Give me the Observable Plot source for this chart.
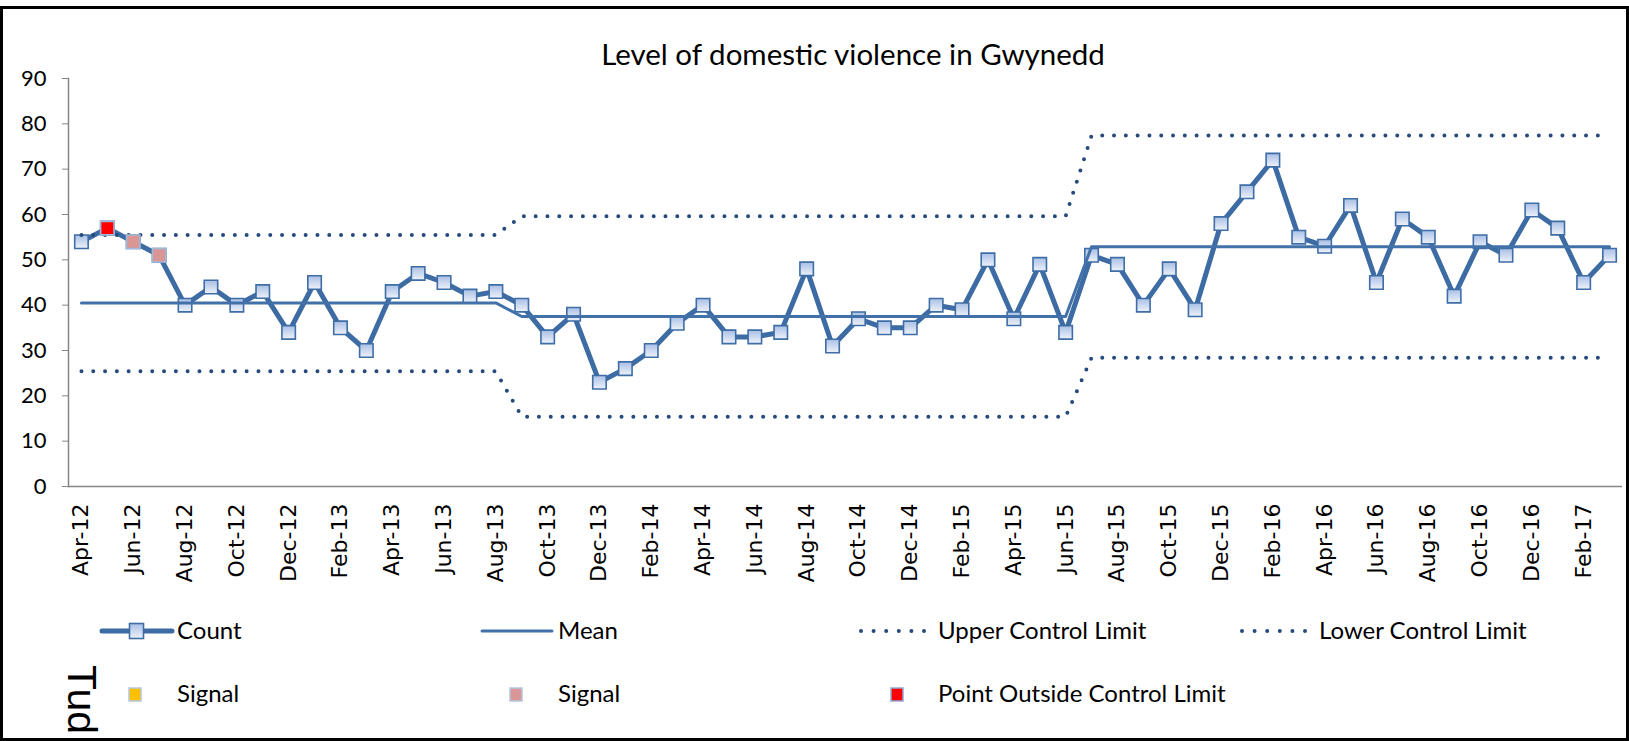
<!DOCTYPE html>
<html><head><meta charset="utf-8">
<script src="https://cdn.jsdelivr.net/npm/d3@7"></script>
<script src="https://cdn.jsdelivr.net/npm/@observablehq/plot@0.6"></script>
<style>
html,body{margin:0;padding:0;background:#fff;}
#page{position:relative;width:1629px;height:741px;overflow:hidden;font-family:Lato,sans-serif;color:#000;}
#box{position:absolute;left:0;top:6px;width:1629px;height:735px;box-sizing:border-box;border:3px solid #000;z-index:5;pointer-events:none;}
#chart{position:absolute;left:0;top:0;}
#title{position:absolute;left:853px;top:39px;transform:translateX(-50%);font-size:29.5px;line-height:29.5px;white-space:nowrap;}
.lg{position:absolute;font-size:24px;line-height:24px;white-space:nowrap;}
.sw{position:absolute;overflow:visible;}
#tud{position:absolute;left:102px;top:665px;transform-origin:0 0;transform:rotate(90deg);font-family:"Liberation Sans",sans-serif;font-size:41px;line-height:41px;white-space:nowrap;}
</style>
</head><body>
<div id="page">
  <div id="box"></div>
  <div id="title">Level of domestic violence in Gwynedd</div>
  <div id="chart"></div>
  <div id="legend"></div>
  <div id="tud">Tud</div>
</div>
<script>
// ---- data ----
const months = ["Apr-12","May-12","Jun-12","Jul-12","Aug-12","Sep-12","Oct-12","Nov-12","Dec-12","Jan-13","Feb-13","Mar-13",
"Apr-13","May-13","Jun-13","Jul-13","Aug-13","Sep-13","Oct-13","Nov-13","Dec-13","Jan-14","Feb-14","Mar-14",
"Apr-14","May-14","Jun-14","Jul-14","Aug-14","Sep-14","Oct-14","Nov-14","Dec-14","Jan-15","Feb-15","Mar-15",
"Apr-15","May-15","Jun-15","Jul-15","Aug-15","Sep-15","Oct-15","Nov-15","Dec-15","Jan-16","Feb-16","Mar-16",
"Apr-16","May-16","Jun-16","Jul-16","Aug-16","Sep-16","Oct-16","Nov-16","Dec-16","Jan-17","Feb-17","Mar-17"];
const counts = [54,57,54,51,40,44,40,43,34,45,35,30,
43,47,45,42,43,40,33,38,23,26,30,36,
40,33,33,34,48,31,37,35,35,40,39,50,
37,49,34,51,49,40,48,39,58,65,72,55,
53,62,45,59,55,42,54,51,61,57,45,51];
const meanVals = [40.5,40.5,40.5,40.5,40.5,40.5,40.5,40.5,40.5,40.5,40.5,40.5,
40.5,40.5,40.5,40.5,40.5,37.5,37.5,37.5,37.5,37.5,37.5,37.5,
37.5,37.5,37.5,37.5,37.5,37.5,37.5,37.5,37.5,37.5,37.5,37.5,
37.5,37.5,37.5,52.9,52.9,52.9,52.9,52.9,52.9,52.9,52.9,52.9,
52.9,52.9,52.9,52.9,52.9,52.9,52.9,52.9,52.9,52.9,52.9,52.9];
const uclVals = [55.5,55.5,55.5,55.5,55.5,55.5,55.5,55.5,55.5,55.5,55.5,55.5,
55.5,55.5,55.5,55.5,55.5,59.6,59.6,59.6,59.6,59.6,59.6,59.6,
59.6,59.6,59.6,59.6,59.6,59.6,59.6,59.6,59.6,59.6,59.6,59.6,
59.6,59.6,59.6,77.4,77.4,77.4,77.4,77.4,77.4,77.4,77.4,77.4,
77.4,77.4,77.4,77.4,77.4,77.4,77.4,77.4,77.4,77.4,77.4,77.4];
const lclVals = [25.4,25.4,25.4,25.4,25.4,25.4,25.4,25.4,25.4,25.4,25.4,25.4,
25.4,25.4,25.4,25.4,25.4,15.4,15.4,15.4,15.4,15.4,15.4,15.4,
15.4,15.4,15.4,15.4,15.4,15.4,15.4,15.4,15.4,15.4,15.4,15.4,
15.4,15.4,15.4,28.4,28.4,28.4,28.4,28.4,28.4,28.4,28.4,28.4,
28.4,28.4,28.4,28.4,28.4,28.4,28.4,28.4,28.4,28.4,28.4,28.4];
const signalYellowMonths = [];
const signalPinkMonths = ["Jun-12","Jul-12"];
const outsideMonths = ["May-12"];
const yTicks = [0,10,20,30,40,50,60,70,80,90];
const xTickLabels = ["Apr-12","Jun-12","Aug-12","Oct-12","Dec-12","Feb-13","Apr-13","Jun-13","Aug-13","Oct-13","Dec-13","Feb-14",
"Apr-14","Jun-14","Aug-14","Oct-14","Dec-14","Feb-15","Apr-15","Jun-15","Aug-15","Oct-15","Dec-15","Feb-16",
"Apr-16","Jun-16","Aug-16","Oct-16","Dec-16","Feb-17"];

// ---- table ----
const rows = months.map((m, i) => ({month: m, count: counts[i], mean: meanVals[i], ucl: uclVals[i], lcl: lclVals[i]}));
const pick = list => rows.filter(r => list.includes(r.month));

const C_LINE = "#3D6BA3", C_MEAN = "#4271AA", C_DOT = "#264A7C";
const dotted = {stroke: C_DOT, strokeWidth: 4, strokeDasharray: "0 11.8", strokeLinecap: "round"};

const plot = Plot.plot({
  width: 1629, height: 600,
  marginLeft: 68, marginRight: 7, marginTop: 78, marginBottom: 114,
  x: {type: "point", domain: months, padding: 0.5},
  y: {domain: [0, 90]},
  style: {background: "transparent", fontFamily: "Lato, sans-serif", overflow: "visible"},
  marks: [
    Plot.ruleY([0], {stroke: "#868686", strokeWidth: 1.5}),
    Plot.frame({anchor: "left", stroke: "#868686", strokeWidth: 1.5}),
    Plot.axisY({ticks: yTicks, tickSize: 6, tickPadding: 16, fontSize: 22, stroke: "#868686", color: "#000", label: null}),
    Plot.axisX({ticks: xTickLabels, tickSize: 0, tickRotate: -90, tickPadding: 17, fontSize: 22, fontFamily: "DejaVu Sans", color: "#000", label: null}),
    Plot.line(rows, {x: "month", y: "count", stroke: C_LINE, strokeWidth: 5, strokeLinejoin: "round"}),
    Plot.dot(rows, {x: "month", y: "count", symbol: "square", r: 7.6, fill: "url(#mkgrad)", stroke: "#3F6EA6", strokeWidth: 1.6}),
    Plot.line(rows, {x: "month", y: "mean", stroke: C_MEAN, strokeWidth: 3}),
    Plot.line(rows, {x: "month", y: "ucl", ...dotted}),
    Plot.line(rows, {x: "month", y: "lcl", ...dotted}),
    Plot.dot(pick(signalYellowMonths), {x: "month", y: "count", symbol: "square", r: 7.6, fill: "#FFC000", stroke: "#A2B9DA", strokeWidth: 1.6}),
    Plot.dot(pick(signalPinkMonths), {x: "month", y: "count", symbol: "square", r: 7.6, fill: "#D99694", stroke: "#A2B9DA", strokeWidth: 1.6}),
    Plot.dot(pick(outsideMonths), {x: "month", y: "count", symbol: "square", r: 7.6, fill: "#FF0000", stroke: "#A2B9DA", strokeWidth: 1.6})
  ]
});
const defs = d3.select(plot).insert("defs", ":first-child");
const grad = defs.append("linearGradient").attr("id", "mkgrad").attr("x1", 0).attr("y1", 0).attr("x2", 0).attr("y2", 1);
grad.append("stop").attr("offset", "0%").attr("stop-color", "#A9BFE5");
grad.append("stop").attr("offset", "100%").attr("stop-color", "#EEF2FA");
document.getElementById("chart").appendChild(plot);

// ---- legend ----
const legend = document.getElementById("legend");
function addText(txt, left, top) {
  const d = document.createElement("div");
  d.className = "lg"; d.textContent = txt;
  d.style.left = left + "px"; d.style.top = top + "px";
  legend.appendChild(d);
}
function addSwatch(svgInner, left, top, w, h) {
  const ns = "http://www.w3.org/2000/svg";
  const s = document.createElementNS(ns, "svg");
  s.setAttribute("class", "sw"); s.setAttribute("width", w); s.setAttribute("height", h);
  s.style.left = left + "px"; s.style.top = top + "px";
  s.innerHTML = svgInner;
  legend.appendChild(s);
}
const R1 = 631, R2 = 695;
addSwatch(`<line x1="3" y1="10" x2="73" y2="10" stroke="${C_LINE}" stroke-width="5" stroke-linecap="round"/>
  <rect x="30.5" y="2.5" width="14" height="15" fill="url(#mkgrad)" stroke="#3F6EA6" stroke-width="1.6"/>`, 99, R1 - 10, 78, 20);
addText("Count", 177, 618);
addSwatch(`<line x1="2" y1="10" x2="72" y2="10" stroke="${C_MEAN}" stroke-width="3" stroke-linecap="round"/>`, 480, R1 - 10, 76, 20);
addText("Mean", 558, 618);
addSwatch(`<line x1="2" y1="10" x2="66" y2="10" stroke="${C_DOT}" stroke-width="4" stroke-dasharray="0 12.6" stroke-linecap="round"/>`, 859, R1 - 10, 70, 20);
addText("Upper Control Limit", 938, 618);
addSwatch(`<line x1="2" y1="10" x2="66" y2="10" stroke="${C_DOT}" stroke-width="4" stroke-dasharray="0 12.6" stroke-linecap="round"/>`, 1240, R1 - 10, 70, 20);
addText("Lower Control Limit", 1319, 618);
addSwatch(`<rect x="1" y="1" width="12" height="13" fill="#FFC000" stroke="#B4C7E0" stroke-width="1.5"/>`, 128, R2 - 8, 15, 16);
addText("Signal", 177, 681);
addSwatch(`<rect x="1" y="1" width="12" height="13" fill="#D99694" stroke="#B4C7E0" stroke-width="1.5"/>`, 509, R2 - 8, 15, 16);
addText("Signal", 558, 681);
addSwatch(`<rect x="1" y="1" width="12" height="13" fill="#FF0000" stroke="#8EA9D3" stroke-width="1.5"/>`, 890, R2 - 8, 15, 16);
addText("Point Outside Control Limit", 938, 681);
</script>
</body></html>
